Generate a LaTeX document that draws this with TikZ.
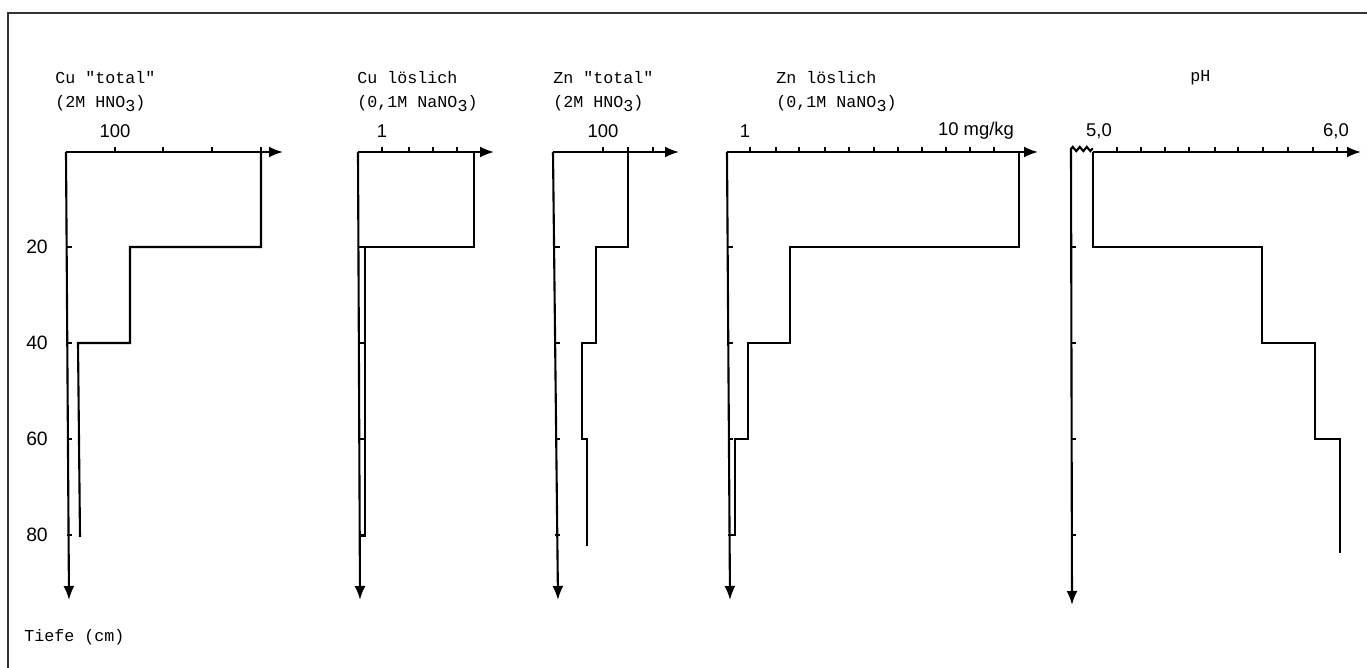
\documentclass[tikz,border=0pt]{standalone}
\usepackage{fontspec}
\setmonofont{Liberation Mono}
\setsansfont{Liberation Sans}
\usetikzlibrary{arrows.meta,decorations.pathmorphing}

\newcommand{\lowsub}[1]{\raisebox{-0.45ex}{#1}}

\begin{document}
\begin{tikzpicture}
     [
     x=0.02cm, y=-0.02cm,
     axis/.style={line width=1.2pt, -{Latex[length=2.8mm,width=2.2mm]}},
     profile/.style={line width=1.2pt},
     tickmark/.style={line width=0.9pt},
     header/.style={anchor=west, inner sep=0pt, font=\ttfamily\fontsize{9.5}{11}\selectfont},
     scalelabel/.style={inner sep=0pt, font=\sffamily\fontsize{10.5}{12}\selectfont},
     depthlabel/.style={inner sep=0pt, font=\sffamily\fontsize{11}{13}\selectfont},
     ]
 \useasboundingbox (0,0) rectangle (1367,668);
 % frame
 \draw[line width=1pt, black!80] (1367,13) -- (8,13) -- (8,668);

 % headers
 \node at (55,78)  [header] (cutot) {Cu "total"};
 \node at (55,104) [header] (cutotsub) {(2M HNO\lowsub{3})};
 \node at (357,78)  [header] (culsl) {Cu löslich};
 \node at (357,104) [header] (culslsub) {(0,1M NaNO\lowsub{3})};
 \node at (553,78)  [header] (zntot) {Zn "total"};
 \node at (553,104) [header] (zntotsub) {(2M HNO\lowsub{3})};
 \node at (776,78)  [header] (znlsl) {Zn löslich};
 \node at (776,104) [header] (znlslsub) {(0,1M NaNO\lowsub{3})};
 \node at (1190,78) [header] (ph) {pH};

 % scale labels
 \node at (115,131) [scalelabel] (s1) {100};
 \node at (382,131) [scalelabel] (s2) {1};
 \node at (603,131) [scalelabel] (s3) {100};
 \node at (745,131) [scalelabel] (s4a) {1};
 \node at (976,131) [scalelabel] (s4b) {10 mg/kg};
 \node at (1099,131) [scalelabel] (s5a) {5,0};
 \node at (1336,131) [scalelabel] (s5b) {6,0};

 % depth labels
 \node at (37,247) [depthlabel] (d20) {20};
 \node at (37,343) [depthlabel] (d40) {40};
 \node at (37,439) [depthlabel] (d60) {60};
 \node at (37,535) [depthlabel] (d80) {80};
 \node at (24,637) [header] (tiefe) {Tiefe (cm)};

 % Cu total
 \draw[axis] (66,152) -- (283,152);
 \draw[axis] (66,152) -- (69,600);
 \foreach \t in {115,163,212,261} \draw[tickmark] (\t,152) -- ++(0,-5);
 \foreach \d in {247,343,439,535} \draw[tickmark] (67,\d) -- ++(5,0);
 \draw[profile] (261,152) -- (261,247) -- (130,247) -- (130,343) -- (78,343) -- (80,537);

 % Cu loeslich
 \draw[axis] (358,152) -- (494,152);
 \draw[axis] (358,152) -- (360,600);
 \foreach \t in {382,409,433,457} \draw[tickmark] (\t,152) -- ++(0,-5);
 \foreach \d in {247,343,439,535} \draw[tickmark] (359,\d) -- ++(5,0);
 \draw[profile] (474,152) -- (474,247) -- (365,247) -- (365,536) -- (360,536);

 % Zn total
 \draw[axis] (553,152) -- (679,152);
 \draw[axis] (553,152) -- (558,600);
 \foreach \t in {603,628,653} \draw[tickmark] (\t,152) -- ++(0,-5);
 \foreach \d in {247,343,439,535} \draw[tickmark] (555,\d) -- ++(5,0);
 \draw[profile] (628,152) -- (628,247) -- (596,247) -- (596,343) -- (582,343) -- (582,439) -- (587,439) -- (587,546);

 % Zn loeslich
 \draw[axis] (727,152) -- (1038,152);
 \draw[axis] (727,152) -- (730,600);
 \foreach \t in {750,776,799,825,849,874,898,922,946,970,994} \draw[tickmark] (\t,152) -- ++(0,-5);
 \foreach \d in {247,343,439,535} \draw[tickmark] (728,\d) -- ++(5,0);
 \draw[profile] (1019,152) -- (1019,247) -- (790,247) -- (790,343) -- (748,343) -- (748,439) -- (735,439) -- (735,535) -- (730,535);

 % pH
 \draw[axis] (1093,152) -- (1361,152);
 \draw[axis] (1071,148) -- (1072,605);
 \draw[profile, decorate, decoration={zigzag, amplitude=1.2pt, segment length=4pt}] (1071,149) -- (1093,149);
 \foreach \t in {1117,1141,1165,1189,1215,1238,1263,1288,1313,1337} \draw[tickmark] (\t,152) -- ++(0,-5);
 \foreach \d in {247,343,439,535} \draw[tickmark] (1071,\d) -- ++(5,0);
 \draw[profile] (1093,152) -- (1093,247) -- (1262,247) -- (1262,343) -- (1315,343) -- (1315,439) -- (1340,439) -- (1340,553);
\end{tikzpicture}
\end{document}
